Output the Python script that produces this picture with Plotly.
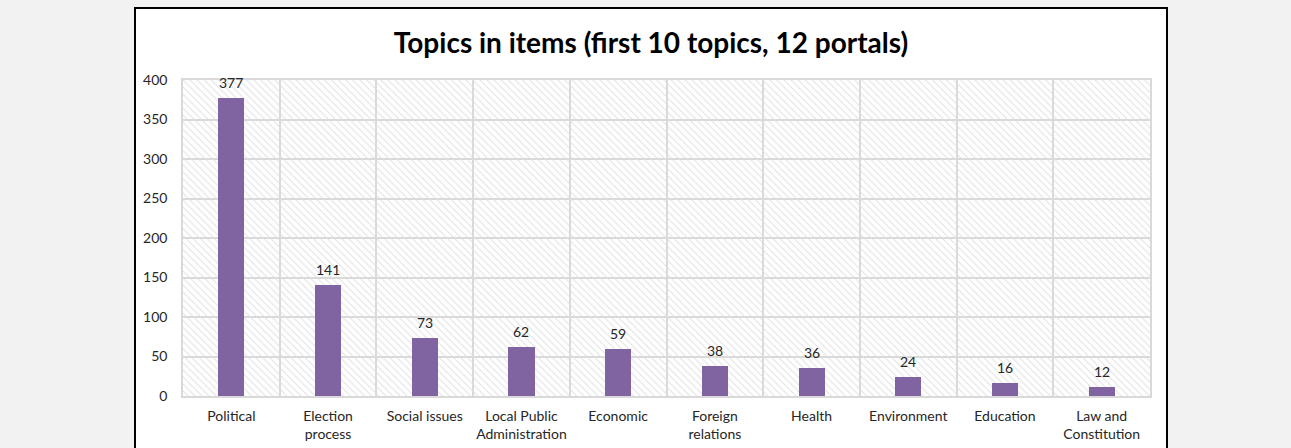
import plotly.graph_objects as go

# Topic counts across the first 10 topics (12 portals)
categories = ["Political", "Election<br>process", "Social issues", "Local Public<br>Administration",
              "Economic", "Foreign<br>relations", "Health", "Environment", "Education",
              "Law and<br>Constitution"]
counts = [377, 141, 73, 62, 59, 38, 36, 24, 16, 12]
y_ticks = [0, 50, 100, 150, 200, 250, 300, 350, 400]

W, H = 1291, 448
L, R, T, B = 183, 1150, 80, 396  # plot area in pixels
pw, ph = R - L, B - T

positions = list(range(len(categories)))
grid = "#d9d9d9"
label_col = "#262626"

fig = go.Figure()

# hatched plot-area background
fig.add_trace(go.Bar(
    x=[(len(categories) - 1) / 2], y=[y_ticks[-1]], width=[len(categories)],
    marker=dict(color="rgba(0,0,0,0)", line=dict(width=0),
                pattern=dict(shape="\\", fillmode="replace", fgcolor="#dedede",
                             bgcolor="rgba(0,0,0,0)", size=5, solidity=0.18)),
    hoverinfo="skip", showlegend=False,
))

fig.add_trace(go.Bar(
    x=positions, y=counts, width=0.27,
    marker=dict(color="#8064a2", line=dict(width=0)),
    showlegend=False,
))

for xi, v in zip(positions, counts):
    fig.add_annotation(x=xi, y=v, text=str(v), showarrow=False, yanchor="bottom",
                       yshift=5, font=dict(family="Lato", size=14, color=label_col))

# white chart box with black frame on grey page
fig.add_shape(type="rect", xref="paper", yref="paper", layer="below",
              x0=(135 - L) / pw, x1=(1167 - L) / pw,
              y0=(B - 470) / ph, y1=(B - 8) / ph,
              fillcolor="white", line=dict(color="black", width=2))

fig.update_layout(
    width=W, height=H,
    margin=dict(l=L, r=W - R, t=T, b=H - B, pad=0),
    paper_bgcolor="#f2f2f2", plot_bgcolor="white",
    barmode="overlay", bargap=0,
    font=dict(family="Lato", size=14, color=label_col),
    title=dict(text="<b>Topics in items (first 10 topics, 12 portals)</b>",
               x=651 / W, xanchor="center", xref="container",
               y=1 - 43 / H, yanchor="middle", yref="container",
               font=dict(family="Lato", size=28, color="black")),
    xaxis=dict(range=[-0.5, len(categories) - 0.5], tickmode="array",
               tickvals=positions, ticktext=categories, showgrid=False,
               ticks="outside", ticklen=6, tickcolor="rgba(0,0,0,0)",
               showline=True, mirror=True, linecolor=grid, linewidth=1.5,
               zeroline=False, fixedrange=True, automargin=False,
               tickfont=dict(family="Lato", size=14, color=label_col),
               minor=dict(tickmode="array", tickvals=[p + 0.5 for p in positions[:-1]],
                          showgrid=True, gridcolor=grid, gridwidth=1.5, ticks="")),
    yaxis=dict(range=[0, y_ticks[-1]], tickmode="array", tickvals=y_ticks,
               showgrid=True, gridcolor=grid, gridwidth=1.5, zeroline=False,
               showline=True, mirror=True, linecolor=grid, linewidth=1.5,
               ticks="outside", ticklen=11, tickcolor="rgba(0,0,0,0)", automargin=False,
               tickfont=dict(family="Lato", size=14, color=label_col), fixedrange=True),
)

fig.write_html("out.html")
